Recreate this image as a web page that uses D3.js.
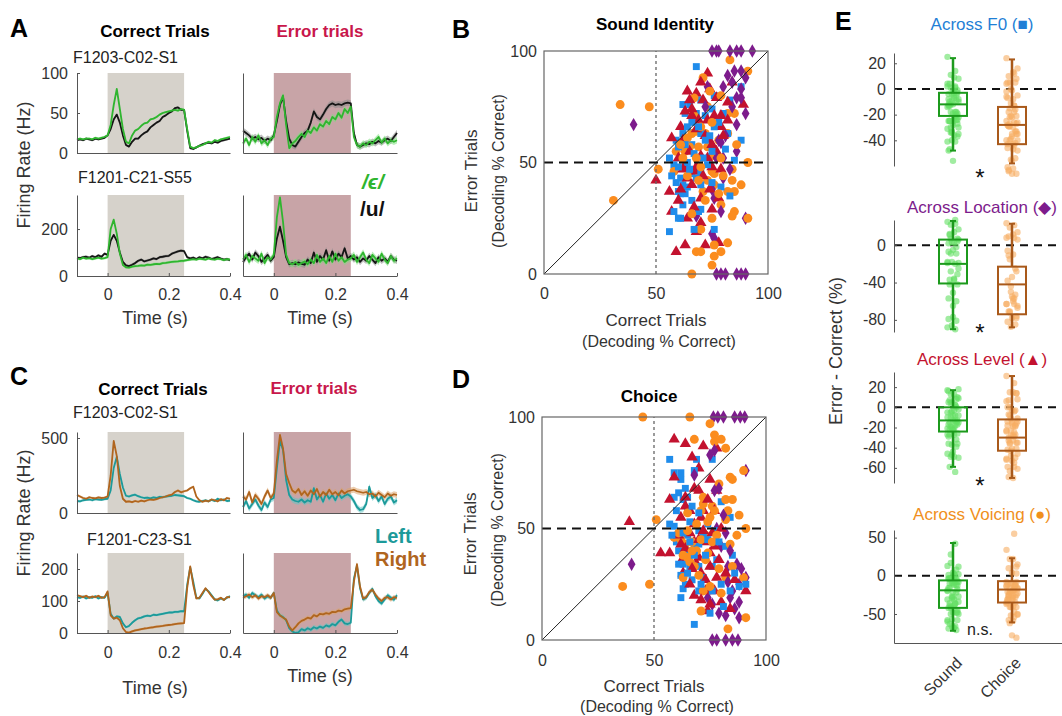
<!DOCTYPE html>
<html><head><meta charset="utf-8">
<script src="https://cdn.jsdelivr.net/npm/d3@7/dist/d3.min.js"></script>
<style>
body{margin:0;background:#fff;}
svg{display:block;}
</style></head><body>
<svg id="c" width="1062" height="716"></svg>
<script>
// ---------------- DATA ----------------
const times = d3.range(51).map(i => (i - 10) / 100);   // -0.10 .. 0.40 s, 10 ms bins
const stimOn = 0, stimOff = 0.25;
const timeTicks = [0, 0.2, 0.4];

// Panel A  (/ϵ/ green vs /u/ black)
const aCorrTopE = [17,18,17,18,18,17,19,18,19,20, 22,35,60,80,55,30,14,12,22,28, 30,34,37,38,42,43,45,48,50,51, 52,53,54,53,55,54,30,8,6,7, 9,10,12,14,13,16,15,17,18,19, 20];
const aCorrTopU = [16,17,16,18,17,16,18,17,18,19, 22,30,42,48,38,22,10,8,14,18, 18,22,25,27,32,35,38,40,45,47, 50,52,56,57,54,54,28,6,5,7, 9,11,12,13,12,14,13,15,16,17, 18];
const aErrTopE  = [12,18,10,20,14,22,12,16,10,18, 20,45,62,72,35,6,12,15,20,24, 20,28,25,32,28,36,33,40,36,45, 42,50,44,55,50,58,20,10,8,12, 10,14,12,16,20,13,18,12,16,14, 16];
const aErrTopU  = [28,25,22,18,20,17,19,15,18,16, 22,40,60,70,40,18,10,8,14,20, 25,28,38,52,45,42,48,55,60,62, 60,61,60,62,63,62,25,10,8,10, 12,11,14,12,15,13,16,18,15,20, 25];
const aCorrBotE = [75,72,78,74,76,72,75,78,74,76, 80,200,240,180,96,47,37,36,40,42, 43,45,44,48,47,50,52,51,55,56, 58,60,61,62,64,65,68,70,72,70, 74,72,70,75,72,70,74,72,68,72, 70];
const aCorrBotU = [78,76,80,82,78,85,80,88,82,95, 90,150,175,150,100,60,45,42,48,55, 65,70,62,66,70,75,72,80,82,85, 86,95,100,105,108,106,80,75,78,72, 80,75,82,78,72,76,80,74,70,72, 68];
const aErrBotE  = [70,90,60,85,75,65,95,55,80,70, 90,250,335,230,90,55,50,60,48,55, 62,50,70,55,90,60,75,55,85,60, 95,65,80,60,70,75,90,60,80,100, 70,55,90,75,60,95,70,55,85,65, 75];
const aErrBotU  = [60,80,95,70,100,85,60,75,90,65, 80,160,210,150,80,50,55,50,58,52, 48,70,55,100,60,85,70,110,65,105, 70,95,80,118,75,85,70,80,60,75, 65,85,70,55,80,65,75,60,85,70, 65];
const semA = [1.5, 4, 6, 14];   // top-correct, top-error, bottom-correct, bottom-error

// Panel C  (Left teal vs Right brown)
const cCorrTopL = [80,78,85,88,90,85,92,90,88,92, 95,150,300,375,260,170,115,110,118,122, 112,105,100,102,98,104,100,108,105,110, 112,115,120,118,115,112,100,95,85,78, 75,80,85,78,88,80,95,85,90,80, 82];
const cCorrTopR = [120,110,100,95,105,100,98,104,100,102, 110,250,480,380,180,95,75,78,72,80, 75,82,78,85,90,88,92,100,105,110, 118,122,140,150,138,145,150,165,175,110, 85,75,82,78,90,85,78,92,85,100, 95];
const cErrTopL  = [40,80,30,60,90,50,20,70,40,90, 100,300,480,420,220,120,90,80,75,90, 70,85,75,165,90,120,75,130,95,120, 85,130,100,115,125,110,80,40,20,25, 60,175,100,120,80,110,60,95,110,70, 85];
const cErrTopR  = [110,90,140,70,120,95,60,110,150,100, 130,350,520,430,260,200,150,135,160,120, 145,115,150,125,160,110,140,120,155,125, 140,118,150,130,145,150,155,145,140,135, 140,125,130,110,135,120,105,130,115,125, 120];
const cCorrBotL = [112,110,114,108,112,110,115,108,112,110, 125,60,45,52,50,30,18,22,32,40, 46,48,52,54,53,57,56,58,60,62, 64,64,66,66,68,68,150,205,160,110, 108,122,138,130,118,105,102,108,104,110, 115];
const cCorrBotR = [118,115,112,116,110,114,112,116,110,112, 130,55,45,48,40,15,3,1,5,8, 10,12,14,15,17,18,20,21,22,24, 25,26,28,29,30,31,140,208,150,108, 110,125,140,128,115,104,105,110,103,112, 112];
const cErrBotL  = [115,120,110,125,118,112,120,108,115,110, 125,70,55,50,40,15,5,0,2,12, 8,15,10,18,14,20,16,24,20,28, 24,35,42,30,28,32,170,210,140,105, 110,125,138,115,100,92,105,118,110,104, 118];
const cErrBotR  = [110,115,120,112,118,108,115,112,118,110, 125,65,55,48,42,20,8,18,30,38, 42,48,45,56,52,60,58,62,60,66, 65,70,68,74,76,78,160,215,145,108, 112,128,135,120,108,100,110,112,105,112, 110];
const semC = [8, 20, 4, 7];

// Panel B (Sound identity) : [correct %, error %]
const bF0 = [[68,93],[62,76],[65,76],[70,78],[63,72],[68,72],[72,71],[75,74],[80,72],[83,78],[88,84],[76,80],[59,60],[62,63],[66,58],[70,63],[76,66],[82,63],[88,60],[56,52],[58,49],[61,52],[64,50],[66,45],[61,43],[62,40],[60,37],[61,36],[63,36],[64,39],[68,43],[70,46],[79,39],[69,28],[70,29],[58,28],[60,25],[61,25],[67,20],[56,19],[76,20],[83,35],[75,55],[85,51],
  [66,68],[64,66],[72,60],[78,68],[60,57],[67,54],[73,49],[71,52],[57,44],[59,41],[66,33],[62,31],[65,47],[75,41],[70,40],[63,58],[81,56],[69,66],[74,62],[60,48]];
const bLvl = [[73,90],[84,86],[68,81],[74,83],[65,78],[71,78],[63,73],[89,76],[66,71],[69,69],[73,69],[76,71],[79,66],[57,61],[62,60],[68,65],[74,59],[75,58],[77,55],[70,53],[63,48],[68,48],[73,52],[50,42],[56,37],[62,47],[64,43],[68,46],[70,34],[78,34],[57,28],[64,25],[70,23],[75,29],[78,14],[68,19],[63,13],[59,10],[72,13],[82,69],[79,71],
  [70,86],[66,74],[61,66],[72,62],[80,62],[65,55],[60,52],[75,48],[71,44],[66,40],[61,38],[74,38],[79,47],[67,30],[60,33],[77,79],[82,77],[64,82]];
const bVoi = [[83,96],[91,91],[71,88],[67,79],[73,75],[82,72],[85,72],[67,71],[66,63],[68,64],[72,63],[82,63],[63,55],[59,55],[65,57],[69,57],[73,57],[78,60],[75,53],[51,47],[58,46],[75,46],[76,45],[84,47],[91,50],[71,37],[73,42],[76,40],[82,37],[85,37],[84,42],[79,31],[85,28],[84,26],[91,25],[75,25],[70,20],[82,14],[76,13],[68,10],[76,8],[79,10],[75,4],[66,0],[70,10],[34,76],[47,75],[31,33],
  [70,66],[64,61],[75,68],[62,52],[68,52],[70,48],[79,52],[64,44],[80,44],[78,36],[69,42],[72,33],[66,27],[88,40],[86,58],[79,80],[74,82],[61,58]];
const bLoc = [[75,100],[77,100],[78,100],[83,100],[86,100],[88,100],[93,100],[77,0],[79,0],[81,0],[86,0],[88,0],[90,0],[82,89],[85,91],[88,91],[73,84],[80,84],[88,83],[86,79],[88,79],[90,72],[86,67],[79,59],[80,52],[77,52],[80,43],[76,34],[68,26],[90,25],[75,18],[76,16],[72,75],[78,60],[40,67],
  [84,75],[81,62],[83,47],[75,38],[86,55],[79,28],[84,86],[90,88]];

// Panel D (Choice)
const dF0 = [[57,81],[69,81],[76,81],[59,75],[62,75],[62,72],[68,76],[65,64],[61,66],[59,64],[63,63],[65,59],[80,62],[84,55],[57,52],[59,51],[65,47],[70,49],[74,52],[77,49],[60,44],[61,40],[65,40],[68,42],[70,43],[82,42],[85,38],[63,34],[66,33],[70,33],[76,33],[62,29],[64,25],[67,27],[72,28],[63,23],[70,22],[84,22],[88,24],[91,25],[81,15],[68,7],[76,22],[80,25],
  [60,58],[66,53],[63,48],[72,46],[68,38],[74,45],[61,34],[65,30],[71,25],[78,36],[58,47],[64,68],[70,57],[66,44],[73,38],[62,19],[75,12],[79,44],[86,30],[67,60]];
const dLvl = [[59,90],[64,88],[72,87],[78,86],[67,82],[70,77],[59,73],[75,72],[68,68],[70,67],[78,67],[57,63],[64,60],[66,58],[72,58],[77,58],[62,55],[71,55],[68,52],[57,39],[62,35],[65,37],[68,44],[73,44],[75,39],[77,42],[70,37],[63,30],[69,34],[71,30],[75,33],[78,28],[68,20],[73,22],[77,22],[80,17],[74,13],[84,14],[91,22],[39,53],[53,39],
  [61,47],[66,48],[72,49],[64,41],[70,45],[67,32],[73,27],[76,48],[80,50],[66,25],[71,18],[75,16],[62,43],[79,36],[82,30],[86,27],[64,64],[74,63]];
const dVoi = [[66,100],[45,100],[75,97],[77,92],[68,90],[80,90],[77,89],[82,86],[84,73],[85,72],[79,70],[72,64],[82,63],[85,63],[76,60],[77,58],[83,58],[51,54],[75,55],[74,53],[82,54],[91,50],[59,46],[62,45],[64,43],[67,44],[69,40],[73,47],[84,43],[65,37],[66,35],[68,33],[85,33],[63,28],[82,28],[90,28],[72,22],[80,21],[71,13],[91,10],[83,5],[74,39],[36,24],[48,25],[90,76],
  [61,48],[65,49],[69,52],[71,45],[67,40],[63,38],[76,44],[78,47],[71,58],[72,61],[73,36],[79,32],[70,29],[75,24],[87,47],[88,56],[65,57]];
const dLoc = [[76.5,100],[78.5,100],[81,100],[86,100],[88.5,100],[90.5,100],[76,0],[78,0],[82,0],[85,0],[87.5,0],[75,83],[77,85],[91,76],[68,74],[77,67],[79,68],[78,50],[82,48],[80,42],[87,34],[83,33],[91,28],[88,25],[88,17],[84,19],[76,16],[82,11],[88,10],[74,19],[40,34],
  [81,56],[84,40],[85,22],[83,26],[86,14],[79,12],[89,32]];
const scatterTicks = [0, 50, 100];

// Panel E : box stats [whisker low, q1, median, q3, whisker high], per [Sound, Choice]
const boxGroups = ["Sound", "Choice"];
const eTitles = ["Across F0 (\u25A0)", "Across Location (\u25C6)", "Across Level (\u25B2)", "Across Voicing (\u25CF)"];
const statsF0  = [[-48,-21,-12,-3,24], [-58,-43,-28,-14,23]];
const statsLoc = [[-90,-41,-20,6,26], [-88,-74,-42,-23,23]];
const statsLvl = [[-59,-24,-13,0,17], [-70,-43,-30,-12,31]];
const statsVoi = [[-72,-42,-19,-6,43], [-61,-35,-18,-7,23]];
const eTicksF0 = [20,0,-20,-40], eTicksLoc = [0,-40,-80], eTicksLvl = [20,0,-20,-40,-60], eTicksVoi = [50,0,-50];
const eSig = ["*", "*", "*", "n.s."];

// ---------------- STYLE ----------------
const FONT = '"Liberation Sans", Arial, Helvetica, sans-serif';
const colF0 = '#1f8ceb', colLvl = '#c3122f', colVoi = '#fb8c1e', colLoc = '#7d1b8c';
const colGreen = '#2fb52f', colBlack = '#151515', colTeal = '#1c9a9a', colBrown = '#b0651e';
const shadeCorr = '#d6d2cb', shadeErr = '#c8a4a7', errRed = '#c8174b';

const svg = d3.select('#c').attr('font-family', FONT);
svg.append('rect').attr('width',1062).attr('height',716).attr('fill','#fff');

function txt(x, y, s, o = {}) {
  const t = svg.append('text').attr('x', x).attr('y', y).text(s)
    .attr('font-size', o.size || 16).attr('fill', o.color || '#222')
    .attr('text-anchor', o.anchor || 'start').attr('font-weight', o.weight || 'normal');
  if (o.italic) t.attr('font-style', 'italic');
  if (o.rot != null) t.attr('transform', `rotate(${o.rot},${x},${y})`);
  return t;
}
function styleAxis(sel, size = 16) {
  sel.attr('font-family', FONT).attr('font-size', size);
  sel.select('.domain').attr('stroke', '#555').attr('stroke-width', 1);
  sel.selectAll('.tick line').attr('stroke', '#555');
  sel.selectAll('.tick text').attr('fill', '#333');
}
const numFmt = d => (d === 0 ? '0' : (Number.isInteger(d) ? String(d) : d3.format('.1f')(d)));

// ---------------- TIME SERIES ----------------
function drawTS(o) {
  const g = svg.append('g');
  const x = d3.scaleLinear().domain([-0.1, 0.4]).range([o.x0, o.x1]);
  const y = d3.scaleLinear().domain(o.dom).range([o.yb, o.yt]);
  g.append('rect').attr('x', x(stimOn)).attr('y', o.yt)
    .attr('width', x(stimOff) - x(stimOn)).attr('height', o.yb - o.yt).attr('fill', o.shade);
  const cl = (v) => Math.max(o.dom[0], Math.min(o.dom[1], v));
  o.series.forEach(s => {
    const area = d3.area().x((d, i) => x(times[i]))
      .y0(d => y(cl(d - s.sem))).y1(d => y(cl(d + s.sem)));
    g.append('path').datum(s.v).attr('d', area).attr('fill', s.band).attr('opacity', 0.55);
  });
  o.series.forEach(s => {
    const line = d3.line().x((d, i) => x(times[i])).y(d => y(cl(d)));
    g.append('path').datum(s.v).attr('d', line).attr('fill', 'none')
      .attr('stroke', s.col).attr('stroke-width', 1.8).attr('stroke-linejoin', 'round');
  });
  const ya = d3.axisLeft(y).tickValues(o.yLab ? o.ticks : []).tickSizeInner(-3).tickSizeOuter(0).tickPadding(9).tickFormat(numFmt);
  styleAxis(g.append('g').attr('transform', `translate(${o.x0},0)`).call(ya));
  const xa = d3.axisBottom(x).tickValues(o.xLab ? timeTicks : []).tickSizeInner(-3).tickSizeOuter(0).tickPadding(o.xPad || 13).tickFormat(numFmt);
  styleAxis(g.append('g').attr('transform', `translate(0,${o.yb})`).call(xa));
}
const L = [77, 230], R = [243, 397];
function pairA(v1, v2, sem) { return [{v: v2, col: colBlack, band: '#8a8a8a', sem: sem}, {v: v1, col: colGreen, band: '#7fe07f', sem: sem}]; }
function pairC(vL, vR, sem) { return [{v: vL, col: colTeal, band: '#63c4c4', sem: sem}, {v: vR, col: colBrown, band: '#dca46c', sem: sem}]; }

// A
drawTS({x0:L[0], x1:L[1], yt:73, yb:153, dom:[0,100], ticks:[0,50,100], yLab:true, xLab:false, shade:shadeCorr, series:pairA(aCorrTopE, aCorrTopU, semA[0])});
drawTS({x0:R[0], x1:R[1], yt:73, yb:153, dom:[0,100], ticks:[0,50,100], yLab:false, xLab:false, shade:shadeErr, series:pairA(aErrTopE, aErrTopU, semA[1])});
drawTS({x0:L[0], x1:L[1], yt:195, yb:276, dom:[0,345], ticks:[0,200], yLab:true, xLab:true, shade:shadeCorr, series:pairA(aCorrBotE, aCorrBotU, semA[2])});
drawTS({x0:R[0], x1:R[1], yt:195, yb:276, dom:[0,345], ticks:[0,200], yLab:false, xLab:true, shade:shadeErr, series:pairA(aErrBotE, aErrBotU, semA[3])});
// C
drawTS({x0:L[0], x1:L[1], yt:432, yb:513, dom:[0,540], ticks:[0,500], yLab:true, xLab:false, shade:shadeCorr, series:pairC(cCorrTopL, cCorrTopR, semC[0])});
drawTS({x0:R[0], x1:R[1], yt:432, yb:513, dom:[0,540], ticks:[0,500], yLab:false, xLab:false, shade:shadeErr, series:pairC(cErrTopL, cErrTopR, semC[1])});
drawTS({x0:L[0], x1:L[1], yt:553, yb:633, dom:[0,250], ticks:[0,100,200], yLab:true, xLab:true, xPad:14, shade:shadeCorr, series:pairC(cCorrBotL, cCorrBotR, semC[2])});
drawTS({x0:R[0], x1:R[1], yt:553, yb:633, dom:[0,250], ticks:[0,100,200], yLab:false, xLab:true, xPad:14, shade:shadeErr, series:pairC(cErrBotL, cErrBotR, semC[3])});

// A / C texts
txt(10, 37, 'A', {size:25, weight:'bold', color:'#000'});
txt(155, 37, 'Correct Trials', {size:17, weight:'bold', anchor:'middle', color:'#000'});
txt(320, 37, 'Error trials', {size:17, weight:'bold', anchor:'middle', color:errRed});
txt(73, 63, 'F1203-C02-S1', {size:16});
txt(78, 183, 'F1201-C21-S55', {size:16});
txt(30, 165, 'Firing Rate (Hz)', {size:18, anchor:'middle', rot:-90, color:'#333'});
txt(155, 324, 'Time (s)', {size:18, anchor:'middle', color:'#333'});
txt(320, 324, 'Time (s)', {size:18, anchor:'middle', color:'#333'});
txt(362, 189, '/\u03F5/', {size:21, weight:'bold', italic:true, color:colGreen});
txt(360, 216, '/u/', {size:21, weight:'bold', color:'#111'});

txt(10, 385, 'C', {size:25, weight:'bold', color:'#000'});
txt(153, 395, 'Correct Trials', {size:17, weight:'bold', anchor:'middle', color:'#000'});
txt(314, 394, 'Error trials', {size:17, weight:'bold', anchor:'middle', color:errRed});
txt(73, 418, 'F1203-C02-S1', {size:16});
txt(87, 545, 'F1201-C23-S1', {size:16});
txt(30, 513, 'Firing Rate (Hz)', {size:18, anchor:'middle', rot:-90, color:'#333'});
txt(155, 694, 'Time (s)', {size:18, anchor:'middle', color:'#333'});
txt(320, 682, 'Time (s)', {size:18, anchor:'middle', color:'#333'});
txt(375, 543, 'Left', {size:20, weight:'bold', color:colTeal});
txt(375, 566, 'Right', {size:20, weight:'bold', color:colBrown});

// ---------------- SCATTER ----------------
function drawScatter(o) {
  const g = svg.append('g');
  const x = d3.scaleLinear().domain([0, 100]).range([o.x0, o.x1]);
  const y = d3.scaleLinear().domain([0, 100]).range([o.yb, o.yt]);
  const sets = [[o.f0, d3.symbolSquare, colF0, 48], [o.lvl, d3.symbolTriangle, colLvl, 56],
                [o.voi, d3.symbolCircle, colVoi, 62], [o.loc, d3.symbolDiamond, colLoc, 52]];
  // interleave the four groups so no colour is systematically on top
  const marks = [];
  const n = d3.max(sets, s => s[0].length);
  for (let i = 0; i < n; i++) sets.forEach(([data, sym, col, size]) => { if (i < data.length) marks.push({d: data[i], sym, col, size}); });
  g.selectAll(null).data(marks).enter().append('path')
    .attr('transform', m => `translate(${x(m.d[0])},${y(m.d[1])})`)
    .attr('d', m => d3.symbol().type(m.sym).size(m.size)())
    .attr('fill', m => m.col);
  g.append('line').attr('x1', x(0)).attr('y1', y(0)).attr('x2', x(100)).attr('y2', y(100)).attr('stroke', '#222').attr('stroke-width', 1);
  g.append('line').attr('x1', x(50)).attr('y1', y(0)).attr('x2', x(50)).attr('y2', y(100)).attr('stroke', '#666').attr('stroke-width', 1.3).attr('stroke-dasharray', '3,3');
  g.append('line').attr('x1', x(0)).attr('y1', y(50)).attr('x2', x(100)).attr('y2', y(50)).attr('stroke', '#111').attr('stroke-width', 2).attr('stroke-dasharray', '9,6');
  g.append('rect').attr('x', o.x0).attr('y', o.yt).attr('width', o.x1 - o.x0).attr('height', o.yb - o.yt)
    .attr('fill', 'none').attr('stroke', '#666').attr('stroke-width', 1.2);
  styleAxis(g.append('g').attr('transform', `translate(0,${o.yb})`)
    .call(d3.axisBottom(x).tickValues(scatterTicks).tickSizeInner(0).tickSizeOuter(0).tickPadding(o.xPad)));
  styleAxis(g.append('g').attr('transform', `translate(${o.x0},0)`)
    .call(d3.axisLeft(y).tickValues(scatterTicks).tickSizeInner(0).tickSizeOuter(0).tickPadding(7)));
  g.selectAll('.domain').remove();
}
drawScatter({x0:544, x1:768, yt:51, yb:274, xPad:14, f0:bF0, lvl:bLvl, voi:bVoi, loc:bLoc});
drawScatter({x0:542, x1:766, yt:417, yb:640, xPad:15, f0:dF0, lvl:dLvl, voi:dVoi, loc:dLoc});

txt(452, 38, 'B', {size:25, weight:'bold', color:'#000'});
txt(655, 30, 'Sound Identity', {size:17, weight:'bold', anchor:'middle', color:'#000'});
txt(656, 326, 'Correct Trials', {size:17, anchor:'middle', color:'#333'});
txt(659, 347, '(Decoding % Correct)', {size:16, anchor:'middle', color:'#333'});
txt(477, 171, 'Error Trials', {size:17, anchor:'middle', rot:-90, color:'#333'});
txt(504, 171, '(Decoding % Correct)', {size:16, anchor:'middle', rot:-90, color:'#333'});

txt(452, 388, 'D', {size:25, weight:'bold', color:'#000'});
txt(649, 402, 'Choice', {size:17, weight:'bold', anchor:'middle', color:'#000'});
txt(654, 692, 'Correct Trials', {size:17, anchor:'middle', color:'#333'});
txt(657, 712, '(Decoding % Correct)', {size:16, anchor:'middle', color:'#333'});
txt(476, 534, 'Error Trials', {size:17, anchor:'middle', rot:-90, color:'#333'});
txt(503, 530, '(Decoding % Correct)', {size:16, anchor:'middle', rot:-90, color:'#333'});

// ---------------- BOX PLOTS (E) ----------------
const AX = 894;
const xc = d3.scalePoint().domain(boxGroups).range([953, 1012]);
const boxCols = ['#1c9a1c', '#a9591a'], dotCols = ['#63e063', '#f7ad62'];
function drawBox(o) {
  const g = svg.append('g');
  const y = d3.scaleLinear().domain(o.dom).range([o.yb, o.yt]);
  g.append('line').attr('x1', AX).attr('x2', 1075).attr('y1', y(0)).attr('y2', y(0))
    .attr('stroke', '#111').attr('stroke-width', 2).attr('stroke-dasharray', '8,6');
  boxGroups.forEach((grp, gi) => {
    const diffs = o.sets[gi].map(p => p[1] - p[0]);
    g.selectAll(null).data(diffs).enter().append('circle')
      .attr('cx', (d, i) => xc(grp) + ((i * 7) % 11 - 5) * 1.1)
      .attr('cy', d => y(d)).attr('r', 3.2).attr('fill', dotCols[gi]).attr('opacity', 0.6);
  });
  boxGroups.forEach((grp, gi) => {
    const [lo, q1, med, q3, hi] = o.stats[gi];
    const cx = xc(grp), c = boxCols[gi], w = 28;
    g.append('line').attr('x1', cx).attr('x2', cx).attr('y1', y(lo)).attr('y2', y(q1)).attr('stroke', c).attr('stroke-width', 2.5);
    g.append('line').attr('x1', cx).attr('x2', cx).attr('y1', y(q3)).attr('y2', y(hi)).attr('stroke', c).attr('stroke-width', 2.5);
    [lo, hi].forEach(v => g.append('line').attr('x1', cx - 3).attr('x2', cx + 3).attr('y1', y(v)).attr('y2', y(v)).attr('stroke', c).attr('stroke-width', 2));
    g.append('rect').attr('x', cx - w / 2).attr('y', y(q3)).attr('width', w).attr('height', y(q1) - y(q3))
      .attr('fill', 'none').attr('stroke', c).attr('stroke-width', 2);
    g.append('line').attr('x1', cx - w / 2).attr('x2', cx + w / 2).attr('y1', y(med)).attr('y2', y(med)).attr('stroke', c).attr('stroke-width', 2);
  });
  styleAxis(g.append('g').attr('transform', `translate(${AX},0)`)
    .call(d3.axisLeft(y).tickValues(o.ticks).tickSizeInner(-3).tickSizeOuter(0).tickPadding(8).tickFormat(d => String(d))));
  if (o.xAxis) {
    const xa = d3.scaleLinear().domain([0, 1]).range([AX, 1075]);
    styleAxis(g.append('g').attr('transform', `translate(0,${o.yb})`).call(d3.axisBottom(xa).tickValues([]).tickSizeOuter(0)));
  }
  txt(982, o.titleY, o.title, {size:17, anchor:'middle', color:o.titleCol});
  if (o.sig === '*') txt(980, o.sigY, '*', {size:24, anchor:'middle', color:'#111'});
  else txt(980, o.sigY, o.sig, {size:16, anchor:'middle', color:'#222'});
}
drawBox({yt:53, yb:166, dom:[-60,28], ticks:eTicksF0, stats:statsF0, sets:[bF0, dF0], title:eTitles[0], titleY:30, titleCol:'#1f7fd6', sig:eSig[0], sigY:186});
drawBox({yt:220, yb:332, dom:[-93,27], ticks:eTicksLoc, stats:statsLoc, sets:[bLoc, dLoc], title:eTitles[1], titleY:213, titleCol:'#7d1b8c', sig:eSig[1], sigY:341});
drawBox({yt:372, yb:483, dom:[-75,35], ticks:eTicksLvl, stats:statsLvl, sets:[bLvl, dLvl], title:eTitles[2], titleY:365, titleCol:'#c3122f', sig:eSig[2], sigY:494});
drawBox({yt:530, yb:643, dom:[-88,60], ticks:eTicksVoi, stats:statsVoi, sets:[bVoi, dVoi], title:eTitles[3], titleY:520, titleCol:'#f0901c', sig:eSig[3], sigY:635, xAxis:true});

txt(835, 30, 'E', {size:25, weight:'bold', color:'#000'});
txt(842, 351, 'Error - Correct (%)', {size:18, anchor:'middle', rot:-90, color:'#333'});
boxGroups.forEach(gname => {
  txt(xc(gname) + 10, 664, gname, {size:16, anchor:'end', rot:-45, color:'#333'});
});
</script>
</body></html>
